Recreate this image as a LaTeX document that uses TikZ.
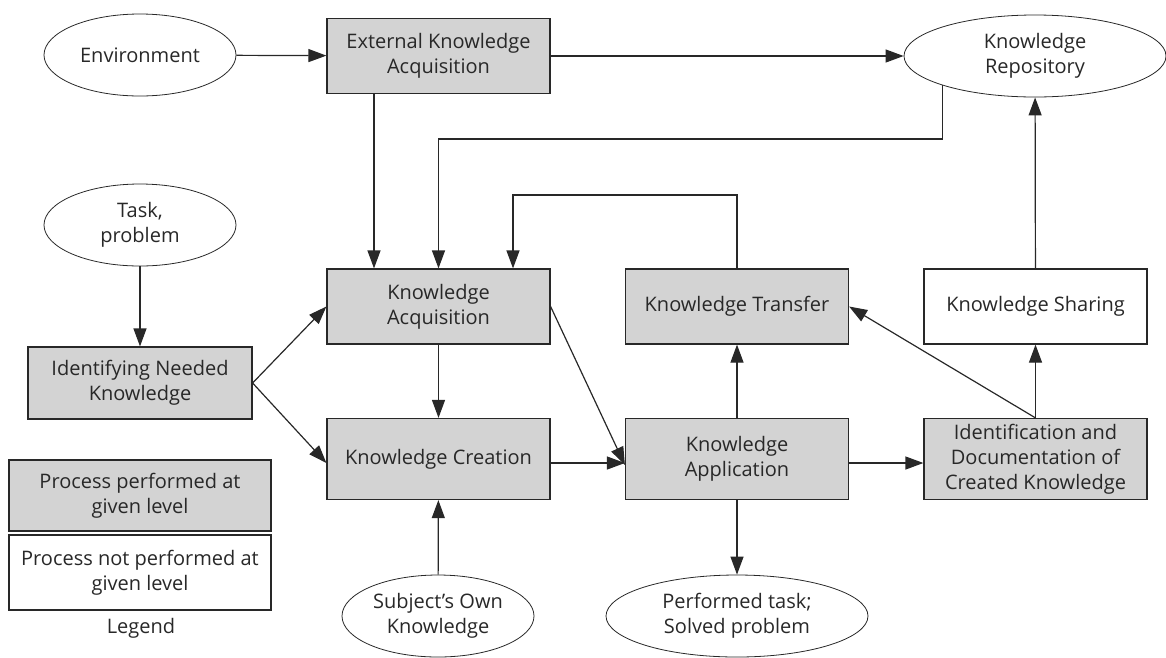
\documentclass[tikz,border=0pt]{standalone}
\usepackage{fontspec}
\setmainfont{Open Sans}
\usetikzlibrary{shapes.geometric,arrows.meta}
\definecolor{boxgray}{RGB}{211,211,211}
\definecolor{ink}{RGB}{40,40,40}
\begin{document}
\begin{tikzpicture}[x=1pt,y=-1pt,
  every node/.style={font=\fontsize{20}{25}\selectfont, text=ink, align=center, inner sep=0pt},
  proc/.style={draw=ink, line width=1.2pt, fill=boxgray, rectangle, minimum width=223pt, minimum height=75pt},
  procoff/.style={proc, fill=white},
  tall/.style={minimum height=81pt},
  oval/.style={draw=ink, line width=0.8pt, ellipse, minimum width=192pt, minimum height=82pt},
  wideoval/.style={oval, minimum width=262pt},
  arr/.style={draw=ink, line width=1.2pt, -{Triangle[length=18pt,width=13pt]}},
  ln/.style={draw=ink, line width=1.2pt}]
\useasboundingbox (0,0) rectangle (1166,657);

% outer sources and sinks
\node[oval] (env) at (140,55) {Environment};
\node[wideoval] (repo) at (1035,56) {Knowledge\\Repository};
\node[oval] (task) at (140,225) {Task,\\problem};
\node[oval] (subj) at (438,616) {Subject’s Own\\Knowledge};
\node[wideoval] (perf) at (737,616) {Performed task;\\Solved problem};

% process boxes
\node[proc] (eka) at (438.5,56) {External Knowledge\\Acquisition};
\node[proc, minimum width=224pt, minimum height=72pt] (need) at (140,383) {Identifying Needed\\Knowledge};
\node[proc] (ka) at (438.5,306.5) {Knowledge\\Acquisition};
\node[proc, tall] (kc) at (438.5,459) {Knowledge Creation};
\node[proc] (kt) at (737,306.5) {Knowledge Transfer};
\node[proc, tall] (kapp) at (737,459) {Knowledge\\Application};
\node[procoff] (ks) at (1035.5,306.5) {Knowledge Sharing};
\node[proc, tall] (idc) at (1035.5,459) {Identification and\\Documentation of\\Created Knowledge};

% legend
\node[proc, minimum width=262pt, minimum height=71pt] (legon) at (140,495.5) {Process performed at\\given level};
\node[procoff, minimum width=262pt, minimum height=75pt] (legoff) at (140,572.5) {Process not performed at\\given level};
\node (legtxt) at (141,628) {Legend};

% routing points
\coordinate (xa) at (374,0);
\coordinate (yrep) at (0,139);
\coordinate (loop) at (513,195);

% connectors
\draw[arr] (env) -- (eka);
\draw[arr] (eka) -- (repo);
\draw[arr] (eka.south -| xa) -- (ka.north -| xa);
\draw[arr] (repo.south west) -- (repo.south west |- yrep) -| (ka.north);
\draw[arr] (kt.north) |- (loop) -- (loop |- ka.north);
\draw[arr] (task) -- (need);
\draw[arr] (need.east) -- (ka.west);
\draw[arr] (need.east) -- ([yshift=-4pt]kc.west);
\draw[arr] (ka) -- (kc);
\draw[arr] (subj) -- (kc);
\draw[arr] ([yshift=-4pt]kc.east) -- ([yshift=-4pt]kapp.west);
\draw[arr] (ka.east) -- ([yshift=-6pt]kapp.west);
\draw[arr] (kapp) -- (kt);
\draw[arr] ([yshift=-4pt]kapp.east) -- ([yshift=-4pt]idc.west);
\draw[arr] (kapp) -- (perf);
\draw[arr] (idc) -- (ks);
\draw[arr] (idc.north) -- (kt.east);
\draw[arr] (ks) -- (repo);
\end{tikzpicture}
\end{document}
